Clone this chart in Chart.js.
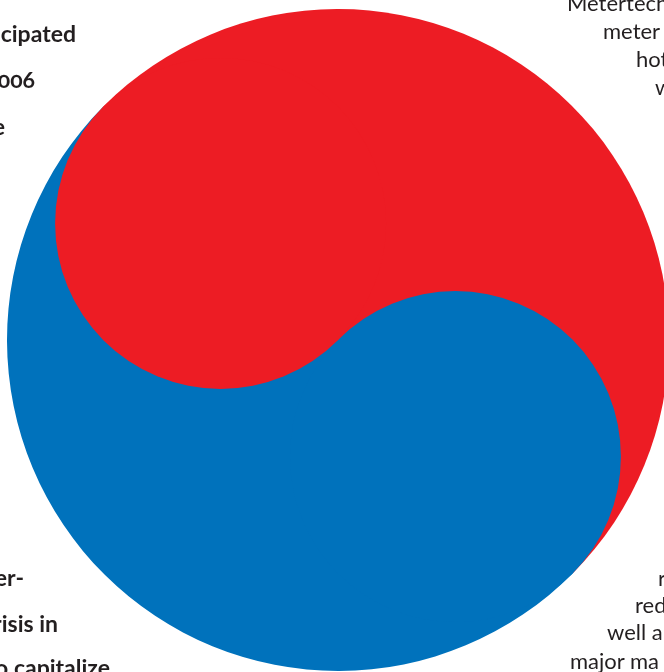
<!DOCTYPE html>
<html>
<head>
<meta charset="utf-8">
<script src="https://cdn.jsdelivr.net/npm/chart.js@4"></script>
<style>
  html, body { margin: 0; padding: 0; background: #fff; }
  body { width: 664px; height: 672px; position: relative; overflow: hidden; font-family: Lato, sans-serif; color: #231f20; font-variant-numeric: oldstyle-nums; }
  #pieWrap { position: absolute; left: 7px; top: 9px; width: 662px; height: 662px; }
  #lobeWrap { position: absolute; left: 0; top: 0; width: 664px; height: 672px; }
  .t { position: absolute; white-space: nowrap; line-height: 1; }
  .b { font-weight: 700; font-size: 23px; }
  .r { font-weight: 400; font-size: 22px; }
</style>
</head>
<body>
<div id="pieWrap"><canvas id="pie"></canvas></div>
<div id="lobeWrap"><canvas id="lobes"></canvas></div>

<div class="t b" style="right:588px; top:22px;">icipated</div>
<div class="t b" style="right:629px; top:68px;">006</div>
<div class="t b" style="right:659px; top:115px;">e</div>

<div class="t b" style="right:640px; top:566px;">er-</div>
<div class="t b" style="right:606px; top:612px;">risis in</div>
<div class="t b" style="right:554px; top:656px;">o capitalize</div>

<div class="t r" style="left:567px; top:-8px;">Metertech</div>
<div class="t r" style="left:603px; top:20px;">meter</div>
<div class="t r" style="left:636px; top:48px;">hot</div>
<div class="t r" style="left:655px; top:76px;">w</div>

<div class="t r" style="left:658px; top:567px;">r</div>
<div class="t r" style="left:635px; top:594px;">red</div>
<div class="t r" style="left:607px; top:621px;">well a</div>
<div class="t r" style="left:570px; top:650px;">major ma</div>

<script>
// two halves of the big disc
const halves = ['Red', 'Blue'];
const shares = [50, 50];
const halfColors = ['#ed1c24', '#0072bc'];

// the two inner lobes (pixel coordinates of the page)
const lobeX = [220.6, 455.4];
const lobeY = [223.4, 456.6];
const lobeR = [165.5, 165.5];
const lobeColors = ['#ed1c24', '#0072bc'];

new Chart(document.getElementById('pie').getContext('2d'), {
  type: 'pie',
  data: {
    labels: halves,
    datasets: [{
      data: shares,
      backgroundColor: halfColors,
      borderWidth: 0
    }]
  },
  options: {
    responsive: true,
    maintainAspectRatio: false,
    animation: false,
    rotation: -45.2,
    layout: { padding: 0 },
    events: [],
    plugins: { legend: { display: false }, tooltip: { enabled: false } }
  }
});

new Chart(document.getElementById('lobes').getContext('2d'), {
  type: 'bubble',
  data: {
    datasets: lobeX.map((x, i) => ({
      label: halves[i],
      data: [{ x: x, y: lobeY[i], r: lobeR[i] }],
      backgroundColor: lobeColors[i],
      borderWidth: 0,
      hoverRadius: 0,
      clip: false
    }))
  },
  options: {
    responsive: true,
    maintainAspectRatio: false,
    animation: false,
    events: [],
    layout: { padding: 0, autoPadding: false },
    scales: {
      x: { type: 'linear', min: 0, max: 664, display: false },
      y: { type: 'linear', min: 0, max: 672, reverse: true, display: false }
    },
    plugins: { legend: { display: false }, tooltip: { enabled: false } }
  }
});
</script>
</body>
</html>
